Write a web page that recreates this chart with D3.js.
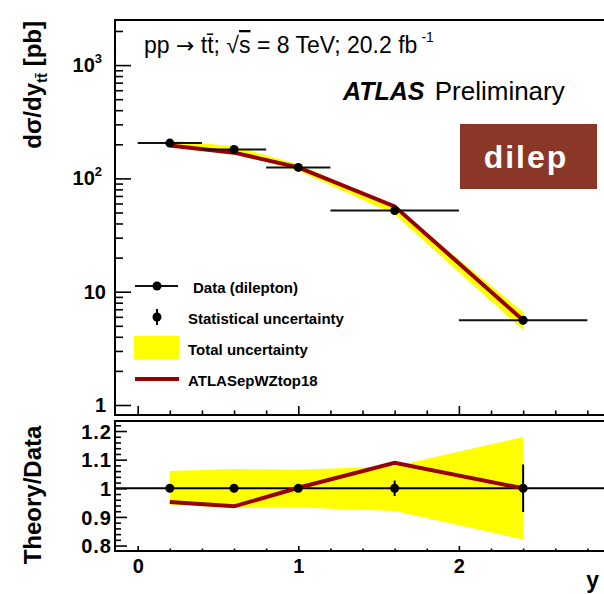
<html>
<head>
<script src="https://d3js.org/d3.v7.min.js"></script>
<style>
    body { margin:0; background:white; }
    text { font-family: "Liberation Sans", Arial, Helvetica, sans-serif; }
</style>
</head>
<body>
<svg id="chart" width="604" height="594"></svg>
<script>
    // rapidity bins
    var binCenters = [0.2, 0.6, 1.0, 1.6, 2.4];
    var binLow = [0, 0.4, 0.8, 1.2, 2.0];
    var binHigh = [0.4, 0.8, 1.2, 2.0, 2.8];
    // d sigma / dy [pb]
    var dataValues = [205, 180, 125, 52, 5.6];
    // relative uncertainties
    var statUnc = [0.008, 0.009, 0.011, 0.027, 0.083];
    var totalUp = [1.060, 1.067, 1.065, 1.077, 1.179];
    var totalDown = [0.943, 0.931, 0.933, 0.921, 0.821];
    // ATLASepWZtop18 / data
    var theoryRatio = [0.952, 0.937, 1.002, 1.089, 1.0];
    var xTickLabels = [0, 1, 2];
    var ratioTicks = [0.8, 0.9, 1.0, 1.1, 1.2];
    var logMajors = [1, 10, 100, 1000];

    var svg = d3.select("#chart");
    var x = d3.scaleLinear().domain([-0.1413, 2.916]).range([115, 606]);
    var yTop = d3.scaleLog().domain([0.816, 2500]).range([415, 20]);
    var yLow = d3.scaleLinear().domain([0.781, 1.235]).range([551, 421]);
    var idx = d3.range(binCenters.length);
    var yellow = "#ffff00", red = "#990000";

    function tickAxis(axis, tr) {
        var g = svg.append("g").attr("transform", tr).call(axis);
        g.select(".domain").remove();
        g.selectAll("line").attr("stroke", "black").attr("stroke-width", 1.6);
        return g;
    }

    // ---- upper panel ----
    svg.append("path")
        .datum(idx)
        .attr("fill", yellow)
        .attr("d", d3.area()
            .x(function(i){ return x(binCenters[i]); })
            .y0(function(i){ return yTop(dataValues[i] * totalDown[i]); })
            .y1(function(i){ return yTop(dataValues[i] * totalUp[i]); }));

    svg.append("path")
        .datum(idx)
        .attr("fill", "none")
        .attr("stroke", red)
        .attr("stroke-width", 4)
        .attr("d", d3.line()
            .x(function(i){ return x(binCenters[i]); })
            .y(function(i){ return yTop(dataValues[i] * theoryRatio[i]); }));

    idx.forEach(function(i){
        var cx = x(binCenters[i]), cy = yTop(dataValues[i]);
        svg.append("line").attr("x1", x(binLow[i])).attr("x2", x(binHigh[i]))
            .attr("y1", cy).attr("y2", cy).attr("stroke", "#111").attr("stroke-width", 2);
        svg.append("line").attr("x1", cx).attr("x2", cx)
            .attr("y1", yTop(dataValues[i] * (1 + statUnc[i])))
            .attr("y2", yTop(dataValues[i] * (1 - statUnc[i])))
            .attr("stroke", "black").attr("stroke-width", 2);
        svg.append("circle").attr("cx", cx).attr("cy", cy).attr("r", 4.5).attr("fill", "black");
    });

    var logMinors = [];
    [1, 10, 100, 1000].forEach(function(d){
        for (var m = 2; m <= 9; m++) if (d * m < 2500) logMinors.push(d * m);
    });
    tickAxis(d3.axisLeft(yTop).tickValues(logMinors).tickSize(-8).tickFormat(""), "translate(115,0)");
    tickAxis(d3.axisLeft(yTop).tickValues(logMajors).tickSize(-16).tickFormat(""), "translate(115,0)");

    var xMinors = d3.range(1, 15).map(function(k){ return k * 0.2; }).filter(function(v){ return Math.abs(v - Math.round(v)) > 0.01; });
    tickAxis(d3.axisBottom(x).tickValues(xMinors).tickSize(-4.5).tickFormat(""), "translate(0,415)");
    tickAxis(d3.axisBottom(x).tickValues(xTickLabels).tickSize(-9).tickFormat(""), "translate(0,415)");

    // log tick labels
    logMajors.forEach(function(v, k){
        var t = svg.append("text")
            .attr("x", k < 2 ? 106 : 102)
            .attr("y", yTop(v) + 7)
            .attr("text-anchor", "end")
            .attr("font-size", 20)
            .attr("font-weight", "bold");
        if (k < 2) { t.text(v); }
        else {
            t.append("tspan").text("10");
            t.append("tspan").attr("dy", -9).attr("font-size", 13).text(k);
        }
    });

    svg.append("rect").attr("x", 115).attr("y", 20).attr("width", 491).attr("height", 395)
        .attr("fill", "none").attr("stroke", "black").attr("stroke-width", 2);

    // y title
    var yt = svg.append("text")
        .attr("transform", "translate(41,21) rotate(-90)")
        .attr("text-anchor", "end")
        .attr("font-size", 24)
        .attr("font-weight", "bold");
    yt.append("tspan").text("d\u03c3/dy");
    yt.append("tspan").attr("dy", 6).attr("font-size", 15).text("t\u0074\u0304");
    yt.append("tspan").attr("dy", -6).text(" [pb]");

    // title
    var title = svg.append("text").attr("x", 144).attr("y", 53).attr("font-size", 23);
    title.append("tspan").text("pp ");
    title.append("tspan").attr("font-family", "'DejaVu Sans'").attr("font-size", 22).text("\u2192");
    title.append("tspan").text(" tt\u0304; \u221a");
    title.append("tspan").style("text-decoration", "overline").text("s");
    title.append("tspan").text(" = 8 TeV; 20.2 fb");
    title.append("tspan").attr("dx", 4).attr("dy", -11).attr("font-size", 14).text("-1");

    var atlas = svg.append("text").attr("x", 343).attr("y", 100).attr("font-size", 25);
    atlas.append("tspan").attr("font-weight", "bold").attr("font-style", "italic").text("ATLAS");
    atlas.append("tspan").attr("dx", 3).attr("font-size", 26).text(" Preliminary");

    svg.append("rect").attr("x", 460).attr("y", 124).attr("width", 137).attr("height", 65).attr("fill", "#8a3728");
    svg.append("text").attr("x", 526).attr("y", 168).attr("text-anchor", "middle")
        .attr("font-size", 32).attr("font-weight", "bold").attr("letter-spacing", 2)
        .attr("fill", "white").text("dilep");

    // legend
    var legY = [286, 317, 348, 379];
    var leg = svg.append("g").attr("font-size", 15).attr("font-weight", "bold");
    leg.append("line").attr("x1", 135).attr("x2", 178).attr("y1", legY[0]).attr("y2", legY[0])
        .attr("stroke", "#111").attr("stroke-width", 2);
    leg.append("circle").attr("cx", 157).attr("cy", legY[0]).attr("r", 4.5);
    leg.append("text").attr("x", 193).attr("y", legY[0] + 7).text("Data (dilepton)");
    leg.append("line").attr("x1", 157).attr("x2", 157).attr("y1", legY[1] - 8).attr("y2", legY[1] + 8)
        .attr("stroke", "black").attr("stroke-width", 2);
    leg.append("circle").attr("cx", 157).attr("cy", legY[1]).attr("r", 4.5);
    leg.append("text").attr("x", 188).attr("y", legY[1] + 7).text("Statistical uncertainty");
    leg.append("rect").attr("x", 134).attr("y", legY[2] - 12).attr("width", 45).attr("height", 23).attr("fill", yellow);
    leg.append("text").attr("x", 188).attr("y", legY[2] + 7).text("Total uncertainty");
    leg.append("line").attr("x1", 135).attr("x2", 179).attr("y1", legY[3]).attr("y2", legY[3])
        .attr("stroke", red).attr("stroke-width", 4);
    leg.append("text").attr("x", 188).attr("y", legY[3] + 7).text("ATLASepWZtop18");

    // ---- ratio panel ----
    svg.append("path")
        .datum(idx)
        .attr("fill", yellow)
        .attr("d", d3.area()
            .x(function(i){ return x(binCenters[i]); })
            .y0(function(i){ return yLow(totalDown[i]); })
            .y1(function(i){ return yLow(totalUp[i]); }));

    svg.append("line").attr("x1", 115).attr("x2", 606).attr("y1", yLow(1)).attr("y2", yLow(1))
        .attr("stroke", "black").attr("stroke-width", 2);

    svg.append("path")
        .datum(idx)
        .attr("fill", "none")
        .attr("stroke", red)
        .attr("stroke-width", 4)
        .attr("d", d3.line()
            .x(function(i){ return x(binCenters[i]); })
            .y(function(i){ return yLow(theoryRatio[i]); }));

    idx.forEach(function(i){
        var cx = x(binCenters[i]);
        svg.append("line").attr("x1", cx).attr("x2", cx)
            .attr("y1", yLow(1 + statUnc[i])).attr("y2", yLow(1 - statUnc[i]))
            .attr("stroke", "black").attr("stroke-width", 2);
        svg.append("circle").attr("cx", cx).attr("cy", yLow(1)).attr("r", 4.5).attr("fill", "black");
    });

    var rMinors = d3.range(0, 22).map(function(k){ return 0.8 + k * 0.02; })
        .filter(function(v){ return Math.abs(v * 10 - Math.round(v * 10)) > 0.01; });
    tickAxis(d3.axisLeft(yLow).tickValues(rMinors).tickSize(-6).tickFormat(""), "translate(115,0)");
    tickAxis(d3.axisLeft(yLow).tickValues(ratioTicks).tickSize(-12).tickPadding(3)
        .tickFormat(function(d){ return d3.format("")(+d.toFixed(1)); }), "translate(115,0)")
        .attr("font-size", 20).attr("font-weight", "bold")
        .attr("font-family", "'Liberation Sans', Arial, sans-serif")
        .selectAll("text").attr("dy", "0.36em").attr("letter-spacing", 1);

    tickAxis(d3.axisBottom(x).tickValues(xMinors).tickSize(-2.5).tickFormat(""), "translate(0,551)");
    tickAxis(d3.axisBottom(x).tickValues(xTickLabels).tickSize(-5).tickPadding(7.5).tickFormat(d3.format("d")), "translate(0,551)")
        .attr("font-size", 20).attr("font-weight", "bold")
        .attr("font-family", "'Liberation Sans', Arial, sans-serif");

    svg.append("rect").attr("x", 115).attr("y", 421).attr("width", 491).attr("height", 130)
        .attr("fill", "none").attr("stroke", "black").attr("stroke-width", 2);

    svg.append("text")
        .attr("transform", "translate(41,495) rotate(-90)")
        .attr("text-anchor", "middle")
        .attr("font-size", 24)
        .attr("font-weight", "bold")
        .text("Theory/Data");

    svg.append("text").attr("x", 599).attr("y", 588).attr("text-anchor", "end")
        .attr("font-size", 23).attr("font-weight", "bold").text("y");
</script>
</body>
</html>
